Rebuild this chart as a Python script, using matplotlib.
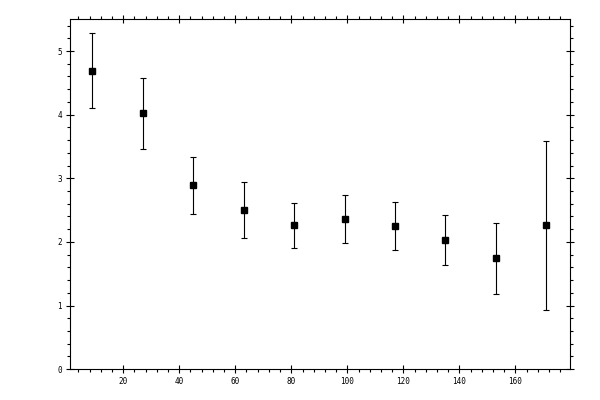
import matplotlib
matplotlib.use("Agg")
import matplotlib.pyplot as plt
from matplotlib.ticker import MultipleLocator

# values
xvals = [9, 27, 45, 63, 81, 99, 117, 135, 153, 171]
yvals = [4.69, 4.02, 2.89, 2.50, 2.26, 2.36, 2.25, 2.03, 1.74, 2.26]
yerr = [0.59, 0.56, 0.45, 0.44, 0.35, 0.38, 0.38, 0.39, 0.56, 1.33]

plt.rcParams["font.family"] = ["DejaVu Sans Mono"]

fig = plt.figure(figsize=(6, 4), dpi=100)
ax = fig.add_axes([0.116, 0.077, 0.8345, 0.875])

ax.errorbar(xvals, yvals, yerr=yerr, fmt="s", color="black", ms=5,
            elinewidth=0.8, capsize=2.2, capthick=0.8)

ax.set_xlim(0.85, 179.6)
ax.set_ylim(0, 5.5)
ax.xaxis.set_major_locator(MultipleLocator(20))
ax.xaxis.set_minor_locator(MultipleLocator(4))
ax.yaxis.set_major_locator(MultipleLocator(1))
ax.yaxis.set_minor_locator(MultipleLocator(0.2))

for s in ax.spines.values():
    s.set_linewidth(0.8)
ax.tick_params(which="both", top=True, right=True, width=0.8, labelsize=5.5)
ax.tick_params(which="major", direction="inout", length=6, pad=2.5)
ax.tick_params(which="minor", direction="out", length=2.5)

fig.savefig("out.png", dpi=100)
